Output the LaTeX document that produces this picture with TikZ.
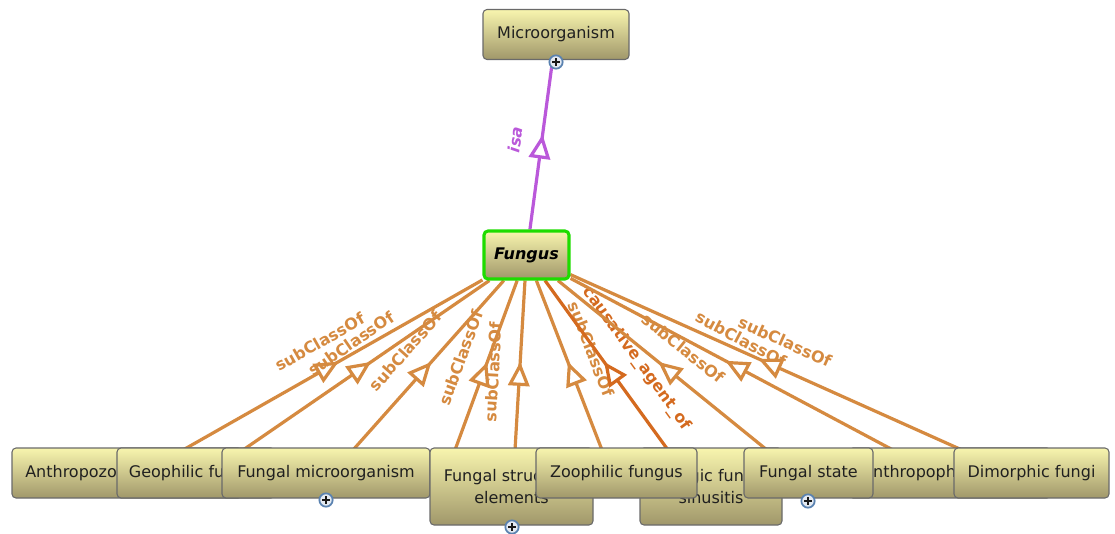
\documentclass[tikz,border=0pt]{standalone}
\usepackage{fontspec}
\setmainfont{DejaVu Sans}
\usetikzlibrary{arrows.meta,decorations.markings}
\pgfdeclarelayer{edges}
\pgfsetlayers{edges,main}
\definecolor{boxtop}{HTML}{F8F5AE}
\definecolor{boxbot}{HTML}{A0976A}
\definecolor{boxline}{HTML}{6A6A6A}
\definecolor{boxtext}{HTML}{202020}
\definecolor{subc}{HTML}{D58A40}
\definecolor{causc}{HTML}{D46A1F}
\definecolor{isac}{HTML}{BA58DA}
\definecolor{selgreen}{HTML}{1EDC00}
\definecolor{plusring}{HTML}{5A82B0}
\definecolor{plusfill}{HTML}{E4EAF2}
\tikzset{
  box/.style={draw=boxline, line width=0.8pt, rounded corners=3pt, top color=boxtop, bottom color=boxbot,
    inner sep=0pt, text=boxtext, font=\fontsize{12}{16.5}\selectfont, align=center},
  sz/.style 2 args={minimum width=#1*0.75pt, minimum height=#2*0.75pt},
  focus/.style={box, draw=selgreen, line width=2.3pt, text=black, font=\bfseries\itshape\fontsize{12}{16.5}\selectfont},
  plusicon/.style={circle, draw=plusring, line width=1.3pt, fill=plusfill, minimum size=10pt, inner sep=0pt,
    path picture={\draw[line width=1.1pt, black!90]
      ([xshift=-2.8pt]path picture bounding box.center) -- ([xshift=2.8pt]path picture bounding box.center)
      ([yshift=-2.8pt]path picture bounding box.center) -- ([yshift=2.8pt]path picture bounding box.center);}},
  relmark/.style={postaction={decorate}, decoration={markings,
    mark=at position #1 with {\arrow{Triangle[length=18pt,width=16pt,fill=white]}}}},
  subedge/.style={draw=subc, line width=2.4pt, relmark=0.52},
  causedge/.style={draw=causc, line width=2.4pt, relmark=0.52},
  isaedge/.style={draw=isac, line width=2.4pt, relmark=0.56},
  lbl/.style={sloped, above=14pt, inner sep=0pt, text=subc, font=\bfseries\fontsize{12}{14}\selectfont},
  causlbl/.style={lbl, text=causc},
  isalbl/.style={lbl, text=isac, font=\bfseries\itshape\fontsize{12}{14}\selectfont},
}
\begin{document}
\begin{tikzpicture}[x=0.75pt,y=-0.75pt]
\useasboundingbox (0,0) rectangle (1115,533);
% parent and focus
\node[box, sz={146}{50}] (micro) at (556,34.5) {Microorganism};
\node[focus, sz={85}{48}] (fungus) at (526.5,255) {Fungus};
% children (drawn in overlap order)
\node[box, sz={230}{50}] (anthz) at (127,473) {Anthropozoophilic fungus};
\node[box, sz={158}{50}] (geo) at (196,473) {Geophilic fungus};
\node[box, sz={208}{50}] (fmicro) at (326,473) {Fungal microorganism};
\node[box, sz={163}{77}] (fstruct) at (511.5,486.5) {Fungal structural\\elements};
\node[box, sz={142}{77}] (allerg) at (711,486.5) {Allergic fungal\\sinusitis};
\node[box, sz={202}{50}] (anthp) at (950,473) {Anthropophilic fungus};
\node[box, sz={161}{50}] (zoo) at (616.5,473) {Zoophilic fungus};
\node[box, sz={129}{50}] (fstate) at (808.5,473) {Fungal state};
\node[box, sz={155}{50}] (dimor) at (1031.5,473) {Dimorphic fungi};
% expand icons
\node[plusicon] (pmicro) at (556,62) {};
\node[plusicon] (pfmicro) at (326,500) {};
\node[plusicon] (pfstruct) at (512,527) {};
\node[plusicon] (pfstate) at (808,501) {};
% connectors
\begin{pgfonlayer}{edges}
\coordinate (t1) at (183,450);
\coordinate (t2) at (243,450);
\coordinate (t3) at (353,450);
\coordinate (t4) at (455,450);
\coordinate (t5) at (515,450);
\coordinate (t6) at (602,450);
\coordinate (t7) at (668,450);
\coordinate (t8) at (767,450);
\coordinate (t9) at (893,450);
\coordinate (t10) at (962,450);
\draw[subedge] (t1) -- (fungus) node[lbl, pos=0.5] (l1) {subClassOf};
\draw[subedge] (t2) -- (fungus) node[lbl, pos=0.5] (l2) {subClassOf};
\draw[subedge] (t3) -- (fungus) node[lbl, pos=0.48] (l3) {subClassOf};
\draw[subedge] (t4) -- (fungus) node[lbl, pos=0.49] (l4) {subClassOf};
\draw[subedge] (t5) -- (fungus) node[lbl, pos=0.45] (l5) {subClassOf};
\draw[subedge] (t6) -- (fungus) node[lbl, pos=0.54] (l6) {subClassOf};
\draw[causedge] (t7) -- (fungus) node[causlbl, pos=0.44] (l7) {causative\_agent\_of};
\draw[subedge] (t8) -- (fungus) node[lbl, pos=0.48] (l8) {subClassOf};
\draw[subedge] (t9) -- (fungus) node[lbl, pos=0.51] (l9) {subClassOf};
\draw[subedge] (t10) -- (fungus) node[lbl, pos=0.48] (l10) {subClassOf};
\draw[isaedge] (fungus) -- (micro) node[isalbl, pos=0.51] (lisa) {isa};
\end{pgfonlayer}
\end{tikzpicture}
\end{document}
